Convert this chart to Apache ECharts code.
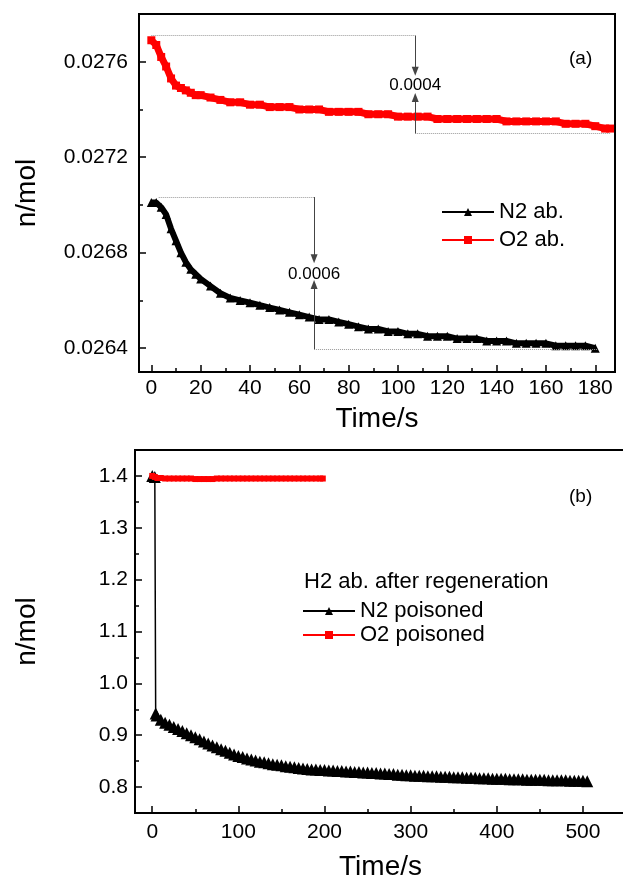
<!DOCTYPE html>
<html>
<head>
<meta charset="utf-8">
<title>n/mol vs Time/s</title>
<script src="https://cdn.jsdelivr.net/npm/echarts@6.0.0/dist/echarts.min.js"></script>
<style>
  html, body { margin: 0; padding: 0; background: #fff; }
  #chart { width: 623px; height: 877px; }
</style>
</head>
<body>
<div id="chart"></div>
<script>
// (a) [time, n] pairs
const n2Ab = [
  [0,0.02701],[2,0.02701],[4,0.02699],[6,0.02696],[8,0.02690],[10,0.02685],[12,0.02680],
  [14,0.02676],[16,0.02673],[18,0.02671],[20,0.02669],[24,0.02666],[28,0.02663],[32,0.02661],
  [36,0.02660],[40,0.02659],[44,0.02658],[48,0.02657],[52,0.02656],[56,0.02655],[60,0.02654],
  [64,0.02653],[68,0.02652],[72,0.02652],[76,0.02651],[80,0.02650],[84,0.02649],[88,0.02648],
  [92,0.02648],[96,0.02647],[100,0.02647],[104,0.02646],[108,0.02646],[112,0.02645],[116,0.02645],
  [120,0.02645],[124,0.02644],[128,0.02644],[132,0.02644],[136,0.02643],[140,0.02643],[144,0.02643],
  [148,0.02642],[152,0.02642],[156,0.02642],[160,0.02642],[164,0.02641],[168,0.02641],[172,0.02641],
  [176,0.02641],[180,0.02640]
];
const o2Ab = [
  [0,0.02769],[2,0.02767],[4,0.02762],[6,0.02758],[8,0.02753],[10,0.02750],[12,0.02749],
  [14,0.02748],[16,0.02747],[18,0.02746],[20,0.02746],[24,0.02745],[28,0.02744],[32,0.02743],
  [36,0.02743],[40,0.02742],[44,0.02742],[48,0.02741],[52,0.02741],[56,0.02741],[60,0.02740],
  [64,0.02740],[68,0.02740],[72,0.02739],[76,0.02739],[80,0.02739],[84,0.02739],[88,0.02738],
  [92,0.02738],[96,0.02738],[100,0.02737],[104,0.02737],[108,0.02737],[112,0.02737],[116,0.02736],
  [120,0.02736],[124,0.02736],[128,0.02736],[132,0.02736],[136,0.02736],[140,0.02736],[144,0.02735],
  [148,0.02735],[152,0.02735],[156,0.02735],[160,0.02735],[164,0.02735],[168,0.02734],[172,0.02734],
  [176,0.02734],[180,0.02733],[184,0.02732],[186,0.02732]
];

// (b)
const n2Poisoned = [
  [0,1.400],[3,1.398],[4,0.942],[5,0.938],[10,0.930],[15,0.924],[20,0.920],[25,0.916],[30,0.912],
  [35,0.908],[40,0.904],[45,0.900],[50,0.896],[55,0.892],[60,0.888],[65,0.884],[70,0.880],
  [75,0.877],[80,0.873],[85,0.870],[90,0.866],[95,0.863],[100,0.860],[105,0.858],[110,0.855],
  [115,0.853],[120,0.851],[125,0.849],[130,0.848],[135,0.846],[140,0.844],[145,0.843],[150,0.842],
  [155,0.840],[160,0.839],[165,0.838],[170,0.837],[175,0.836],[180,0.835],[185,0.834],[190,0.834],
  [195,0.833],[200,0.833],[205,0.832],[210,0.832],[215,0.831],[220,0.831],[225,0.830],[230,0.830],
  [235,0.829],[240,0.829],[245,0.828],[250,0.828],[255,0.827],[260,0.827],[265,0.826],[270,0.826],
  [275,0.825],[280,0.825],[285,0.824],[290,0.824],[295,0.823],[300,0.823],[305,0.822],[310,0.822],
  [315,0.822],[320,0.821],[325,0.821],[330,0.821],[335,0.820],[340,0.820],[345,0.820],[350,0.819],
  [355,0.819],[360,0.819],[365,0.818],[370,0.818],[375,0.818],[380,0.817],[385,0.817],[390,0.817],
  [395,0.816],[400,0.816],[405,0.816],[410,0.816],[415,0.815],[420,0.815],[425,0.815],[430,0.815],
  [435,0.814],[440,0.814],[445,0.814],[450,0.814],[455,0.814],[460,0.813],[465,0.813],[470,0.813],
  [475,0.813],[480,0.813],[485,0.812],[490,0.812],[495,0.812],[500,0.812],[505,0.811]
];
const o2Poisoned = [
  [0,1.400],[3,1.398],[6,1.396],[10,1.396],[15,1.395],[20,1.395],[25,1.395],[30,1.395],[35,1.395],
  [40,1.395],[45,1.395],[50,1.394],[55,1.394],[60,1.394],[65,1.394],[70,1.394],[75,1.395],
  [80,1.395],[85,1.395],[90,1.395],[95,1.395],[100,1.395],[105,1.395],[110,1.395],[115,1.395],
  [120,1.395],[125,1.395],[130,1.395],[135,1.395],[140,1.395],[145,1.395],[150,1.395],[155,1.395],
  [160,1.395],[165,1.395],[170,1.395],[175,1.395],[180,1.395],[185,1.395],[190,1.395],[195,1.395],
  [198,1.395]
];

// tick labels
const xTicksA = [0, 20, 40, 60, 80, 100, 120, 140, 160, 180];
const xMinorA = [10, 30, 50, 70, 90, 110, 130, 150, 170];
const yTicksA = [0.0264, 0.0268, 0.0272, 0.0276];
const yMinorA = [0.0266, 0.0270, 0.0274];
const xTicksB = [0, 100, 200, 300, 400, 500];
const xMinorB = [50, 150, 250, 350, 450];
const yTicksB = [0.8, 0.9, 1.0, 1.1, 1.2, 1.3, 1.4];
const yMinorB = [0.85, 0.95, 1.05, 1.15, 1.25, 1.35];

// difference markers in panel (a): x of the arrow, left/right ends, top/bottom levels
const o2Gap = { label: '0.0004', x: 107, x0: 0, x1: 186, top: 0.02771, bottom: 0.0273, downTo: 0.02756, upTo: 0.02745, textAt: 0.02750 };
const n2Gap = { label: '0.0006', x: 66, x0: 3, x1: 181, top: 0.027033, bottom: 0.026396, downTo: 0.026775, upTo: 0.026667, textAt: 0.026708 };

const FONT = 'Liberation Sans, Arial, sans-serif';

function gapLines(g) {
  const dotted = { type: 'dotted', color: '#999', width: 1 };
  const solid = { type: 'solid', color: '#444', width: 1 };
  return [
    [{ coord: [g.x0, g.top], lineStyle: dotted, symbol: 'none' }, { coord: [g.x, g.top], symbol: 'none' }],
    [{ coord: [g.x, g.bottom], lineStyle: dotted, symbol: 'none' }, { coord: [g.x1, g.bottom], symbol: 'none' }],
    [{ coord: [g.x, g.top], lineStyle: solid, symbol: 'none' }, { coord: [g.x, g.downTo], symbol: 'triangle' }],
    [{ coord: [g.x, g.bottom], lineStyle: solid, symbol: 'none' }, { coord: [g.x, g.upTo], symbol: 'triangle' }]
  ];
}
function gapText(g) {
  return {
    symbol: 'circle', symbolSize: 0,
    label: { show: true, position: 'inside', color: '#000', fontSize: 17, fontFamily: FONT, formatter: g.label },
    data: [{ coord: [g.x, g.textAt], value: g.label }]
  };
}

function valueX(gridIndex, min, max, ticks, minor, margin, nameGap) {
  return [{
    type: 'value', gridIndex, min, max, position: 'bottom', name: 'Time/s', nameLocation: 'middle', nameGap,
    nameTextStyle: { fontSize: 28, color: '#000', fontFamily: FONT },
    axisLine: { show: true, onZero: false, lineStyle: { color: '#000', width: 2 } },
    axisTick: { show: true, inside: true, length: 7, lineStyle: { color: '#000', width: 1.5 }, customValues: ticks },
    axisLabel: { fontSize: 21, color: '#000', fontFamily: FONT, margin, customValues: ticks },
    splitLine: { show: false }
  }, {
    type: 'value', gridIndex, min, max, position: 'bottom',
    axisLine: { show: false, onZero: false },
    axisTick: { show: true, inside: true, length: 4, lineStyle: { color: '#000', width: 1.5 }, customValues: minor },
    axisLabel: { show: false },
    splitLine: { show: false }
  }];
}
function valueY(gridIndex, min, max, ticks, minor, fmt, margin, nameGap) {
  return [{
    type: 'value', gridIndex, min, max, position: 'left', name: 'n/mol', nameLocation: 'middle', nameGap,
    nameTextStyle: { fontSize: 28, color: '#000', fontFamily: FONT },
    axisLine: { show: true, onZero: false, lineStyle: { color: '#000', width: 2 } },
    axisTick: { show: true, inside: true, length: 7, lineStyle: { color: '#000', width: 1.5 }, customValues: ticks },
    axisLabel: { fontSize: 21, color: '#000', fontFamily: FONT, margin, customValues: ticks, formatter: fmt },
    splitLine: { show: false }
  }, {
    type: 'value', gridIndex, min, max, position: 'left',
    axisLine: { show: false, onZero: false },
    axisTick: { show: true, inside: true, length: 4, lineStyle: { color: '#000', width: 1.5 }, customValues: minor },
    axisLabel: { show: false },
    splitLine: { show: false }
  }];
}

const legendText = { fontSize: 22, color: '#000', fontFamily: FONT };

const chart = echarts.init(document.getElementById('chart'));
chart.setOption({
  animation: false,
  backgroundColor: '#fff',
  textStyle: { fontFamily: FONT },
  title: [
    { text: '(a)', left: 569, top: 49, padding: 0, textStyle: { fontSize: 19, fontWeight: 'normal', color: '#000', fontFamily: FONT } },
    { text: '(b)', left: 569, top: 487, padding: 0, textStyle: { fontSize: 19, fontWeight: 'normal', color: '#000', fontFamily: FONT } },
    { text: 'H2 ab. after regeneration', left: 304, top: 571, padding: 0, textStyle: { fontSize: 22, fontWeight: 'normal', color: '#000', fontFamily: FONT } }
  ],
  legend: [
    {
      data: ['N2 ab.', 'O2 ab.'], orient: 'vertical', left: 441, top: 201, padding: 0,
      itemWidth: 52, itemHeight: 10, itemGap: 6,
      lineStyle: { width: 2 },
      textStyle: legendText
    },
    {
      data: ['N2 poisoned', 'O2 poisoned'], orient: 'vertical', left: 302, top: 600, padding: 0,
      itemWidth: 52, itemHeight: 10, itemGap: 2,
      lineStyle: { width: 2 },
      textStyle: legendText
    }
  ],
  grid: [
    { left: 139, top: 14, width: 476, height: 358, show: true, borderColor: '#000', borderWidth: 2, outerBoundsMode: 'none' },
    { left: 135, top: 450, width: 491, height: 363, show: true, borderColor: '#000', borderWidth: 2, outerBoundsMode: 'none' }
  ],
  xAxis: [
    ...valueX(0, -5, 188, xTicksA, xMinorA, 6, 33),
    ...valueX(1, -20, 550, xTicksB, xMinorB, 9, 40)
  ],
  yAxis: [
    ...valueY(0, 0.0263, 0.0278, yTicksA, yMinorA, v => v.toFixed(4), 11, 98),
    ...valueY(1, 0.75, 1.45, yTicksB, yMinorB, v => v.toFixed(1), 7, 94)
  ],
  series: [
    {
      name: 'N2 ab.', type: 'line', xAxisIndex: 0, yAxisIndex: 0, data: n2Ab,
      symbol: 'triangle', symbolSize: 9, showAllSymbol: true,
      itemStyle: { color: '#000' }, lineStyle: { color: '#000', width: 6 },
      markLine: { silent: true, symbolSize: [7, 9], label: { show: false }, data: gapLines(n2Gap) },
      markPoint: gapText(n2Gap)
    },
    {
      name: 'O2 ab.', type: 'line', xAxisIndex: 0, yAxisIndex: 0, data: o2Ab,
      symbol: 'rect', symbolSize: 8, showAllSymbol: true,
      itemStyle: { color: '#ff0000' }, lineStyle: { color: '#ff0000', width: 7 },
      markLine: { silent: true, symbolSize: [7, 9], label: { show: false }, data: gapLines(o2Gap) },
      markPoint: gapText(o2Gap)
    },
    {
      name: 'N2 poisoned', type: 'line', xAxisIndex: 2, yAxisIndex: 2, data: n2Poisoned,
      symbol: 'triangle', symbolSize: 12, showAllSymbol: true,
      itemStyle: { color: '#000' }, lineStyle: { color: '#000', width: 1.5 }
    },
    {
      name: 'O2 poisoned', type: 'line', xAxisIndex: 2, yAxisIndex: 2, data: o2Poisoned,
      symbol: 'rect', symbolSize: 6, showAllSymbol: true,
      itemStyle: { color: '#ff0000' }, lineStyle: { color: '#ff0000', width: 4 }
    }
  ]
});
</script>
</body>
</html>
